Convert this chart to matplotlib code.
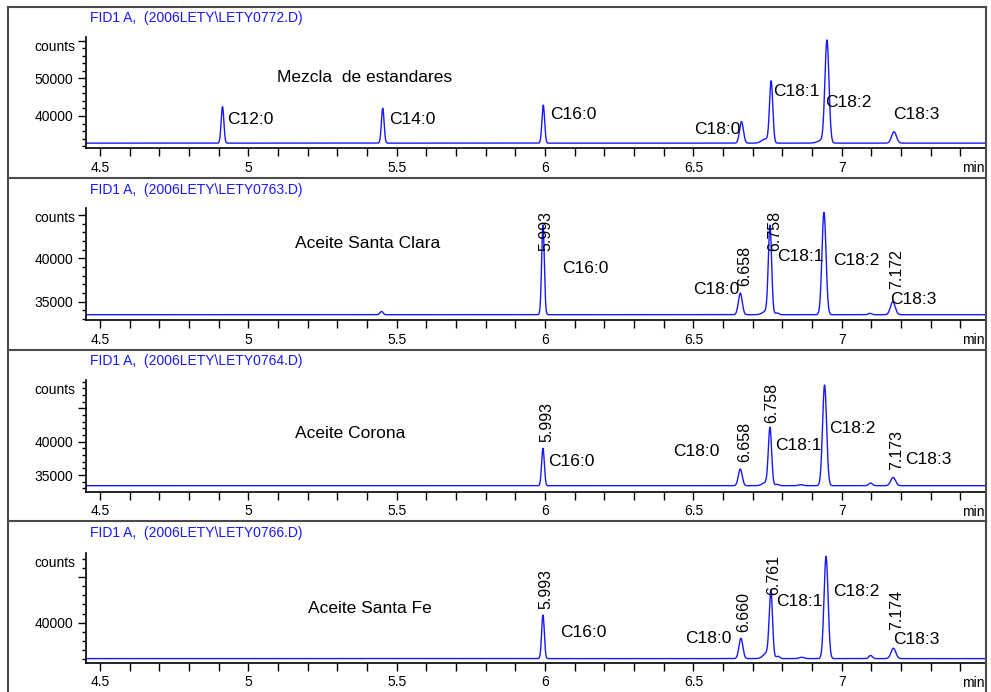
import numpy as np
import matplotlib
matplotlib.use('Agg')
import matplotlib.pyplot as plt
from matplotlib import font_manager
from matplotlib.ticker import MultipleLocator
from matplotlib.lines import Line2D

# ---- data ----
files = ['FID1 A,  (2006LETY\\LETY0772.D)', 'FID1 A,  (2006LETY\\LETY0763.D)',
         'FID1 A,  (2006LETY\\LETY0764.D)', 'FID1 A,  (2006LETY\\LETY0766.D)']
samples = ['Mezcla  de estandares', 'Aceite Santa Clara', 'Aceite Corona', 'Aceite Santa Fe']

# peak tables: retention time (min), apex counts, peak sigma (min)
rt_mezcla = [4.913, 5.453, 5.994, 6.662, 6.742, 6.762, 6.935, 6.950, 7.176]
apex_mezcla = [42470, 42040, 42900, 38490, 33900, 49100, 33600, 59700, 35840]
sig_mezcla = [0.0045, 0.0045, 0.0045, 0.0065, 0.012, 0.0055, 0.015, 0.0068, 0.008]
base_mezcla = 32800

rt_clara = [5.449, 5.993, 6.658, 6.745, 6.758, 6.782, 6.940, 7.095, 7.172]
apex_clara = [33880, 43800, 36000, 33900, 43600, 33700, 45300, 33650, 35000]
sig_clara = [0.005, 0.0045, 0.0065, 0.012, 0.0055, 0.006, 0.0068, 0.006, 0.008]
base_clara = 33500

rt_corona = [5.993, 6.658, 6.745, 6.758, 6.782, 6.862, 6.942, 7.097, 7.173]
apex_corona = [39000, 35900, 33900, 41900, 33600, 33550, 48500, 33800, 34650]
sig_corona = [0.0045, 0.0065, 0.012, 0.0055, 0.006, 0.008, 0.0068, 0.006, 0.008]
base_corona = 33400

rt_fe = [5.993, 6.660, 6.748, 6.761, 6.785, 6.865, 6.947, 7.097, 7.174]
apex_fe = [40850, 38290, 36700, 43230, 36300, 36200, 47300, 36400, 37190]
sig_fe = [0.0045, 0.0065, 0.012, 0.0055, 0.006, 0.008, 0.0068, 0.006, 0.008]
base_fe = 36050

# labels: fatty acids and printed retention times
acids_mezcla = ['C12:0', 'C14:0', 'C16:0', 'C18:0', 'C18:1', 'C18:2', 'C18:3']
acids_oil = ['C16:0', 'C18:0', 'C18:1', 'C18:2', 'C18:3']
rtlab_clara = ['5.993', '6.658', '6.758', '7.172']
rtlab_corona = ['5.993', '6.658', '6.758', '7.173']
rtlab_fe = ['5.993', '6.660', '6.761', '7.174']

# y axis: limits, labelled ticks, unlabelled major ticks, minor step
ylims = [(31430, 60880), (32890, 45760), (32500, 49250), (35600, 47630)]
ymajor = [[40000, 50000, 60000], [35000, 40000, 45000], [35000, 40000, 45000], [40000, 45000]]
ylabels = [['40000', '50000', ''], ['35000', '40000', ''], ['35000', '40000', ''], ['40000', '']]
yminor = [2000, 1000, 1000, 1000]

# ---- layout (pixels of the 991x692 picture) ----
W, H = 991, 692
panel_px = [(37.3, 148.3), (208.3, 320), (380, 491.7), (553.3, 662.7)]
title_py = [18, 190, 361, 533]
sep_py = [7, 178, 350, 521]

# label positions (time, counts)
pos_mezcla = [(4.928, 38940), (5.474, 38940), (6.017, 40530), (6.502, 36550),
              (6.768, 46630), (6.944, 43710), (7.173, 40530)]
pos_name = [(5.097, 50340), (5.157, 41650), (5.157, 41260), (5.201, 41580)]
pos_acid = [None,
            [(6.056, 38770), (6.498, 36350), (6.782, 40260), (6.970, 39800), (7.163, 35200)],
            [(6.009, 37000), (6.431, 38460), (6.775, 39400), (6.957, 42010), (7.213, 37260)],
            [(6.050, 38950), (6.472, 38210), (6.780, 42380), (6.971, 43480), (7.173, 38100)]]
pos_rt = [None,
          [(6.002, 43150), (6.674, 39110), (6.775, 43150), (7.185, 38800)],
          [(6.007, 43000), (6.674, 40000), (6.764, 45800), (7.185, 38760)],
          [(6.002, 43700), (6.668, 41210), (6.772, 45240), (7.185, 41400)]]

names = {f.name for f in font_manager.fontManager.ttflist}
if 'Liberation Sans Narrow' in names:
    plt.rcParams['font.family'] = ['Liberation Sans Narrow', 'DejaVu Sans']
    fs_lab, fs_tick, fs_title = 14.5, 12, 12
else:
    plt.rcParams['font.family'] = ['Liberation Sans', 'DejaVu Sans']
    fs_lab, fs_tick, fs_title = 12.5, 10, 10

blue = '#1818ff'
frame_c = '#4a4a4a'

fig = plt.figure(figsize=(W / 100, H / 100), dpi=100)

t = np.linspace(4.45, 7.5, 4000)
tables = [(rt_mezcla, apex_mezcla, sig_mezcla, base_mezcla),
          (rt_clara, apex_clara, sig_clara, base_clara),
          (rt_corona, apex_corona, sig_corona, base_corona),
          (rt_fe, apex_fe, sig_fe, base_fe)]
rtlabs = [None, rtlab_clara, rtlab_corona, rtlab_fe]

for i in range(4):
    top, bot = panel_px[i]
    ax = fig.add_axes([86 / W, 1 - bot / H, (986 - 86) / W, (bot - top) / H])
    rts, apex, sig, base = tables[i]
    trace = np.full_like(t, float(base))
    for r, a, s in zip(rts, apex, sig):
        trace += (a - base) * np.exp(-(t - r) ** 2 / (2 * s ** 2))
    ax.plot(t, trace, color=blue, lw=1.0)

    ax.set_xlim(4.453, 7.486)
    ax.set_ylim(*ylims[i])
    ax.set_xticks([4.5, 5, 5.5, 6, 6.5, 7])
    ax.set_xticklabels(['4.5', '5', '5.5', '6', '6.5', '7'])
    ax.xaxis.set_minor_locator(MultipleLocator(0.1))
    ax.set_yticks(ymajor[i])
    ax.set_yticklabels(ylabels[i])
    ax.yaxis.set_minor_locator(MultipleLocator(yminor[i]))
    ax.tick_params(axis='x', which='both', length=6, width=1, pad=3, labelsize=fs_tick)
    ax.tick_params(axis='y', which='major', length=6, width=1, pad=3, labelsize=fs_tick)
    ax.tick_params(axis='y', which='minor', length=3, width=1)
    for s in ['top', 'right']:
        ax.spines[s].set_visible(False)
    for s in ['left', 'bottom']:
        ax.spines[s].set_linewidth(1.2)
    ax.patch.set_alpha(0)

    ax.text(-0.012, 0.912, 'counts', transform=ax.transAxes, ha='right', va='center',
            fontsize=fs_tick)
    ax.annotate('min', xy=(1.0, 0), xycoords='axes fraction', xytext=(-1, -14.5),
                textcoords='offset points', ha='right', va='center', fontsize=fs_tick)

    fig.text(90 / W, 1 - title_py[i] / H, files[i], color=blue, fontsize=fs_title,
             ha='left', va='center')

    ax.text(pos_name[i][0], pos_name[i][1], samples[i], fontsize=fs_lab, ha='left', va='center')
    if i == 0:
        for lab, (x, y) in zip(acids_mezcla, pos_mezcla):
            ax.text(x, y, lab, fontsize=fs_lab, ha='left', va='center')
    else:
        for lab, (x, y) in zip(acids_oil, pos_acid[i]):
            ax.text(x, y, lab, fontsize=fs_lab, ha='left', va='center')
        for lab, (x, y) in zip(rtlabs[i], pos_rt[i]):
            ax.text(x, y, lab, fontsize=fs_lab - 1, ha='center', va='center', rotation=90)

# panel frames
x0, x1 = 8 / W, 986 / W
for py in sep_py:
    fig.add_artist(Line2D([x0, x1], [1 - py / H, 1 - py / H], transform=fig.transFigure,
                          color=frame_c, lw=1.5))
for xx in (x0, x1):
    fig.add_artist(Line2D([xx, xx], [1 - sep_py[0] / H, 0], transform=fig.transFigure,
                          color=frame_c, lw=1.5))

fig.savefig('out.png', dpi=100)
